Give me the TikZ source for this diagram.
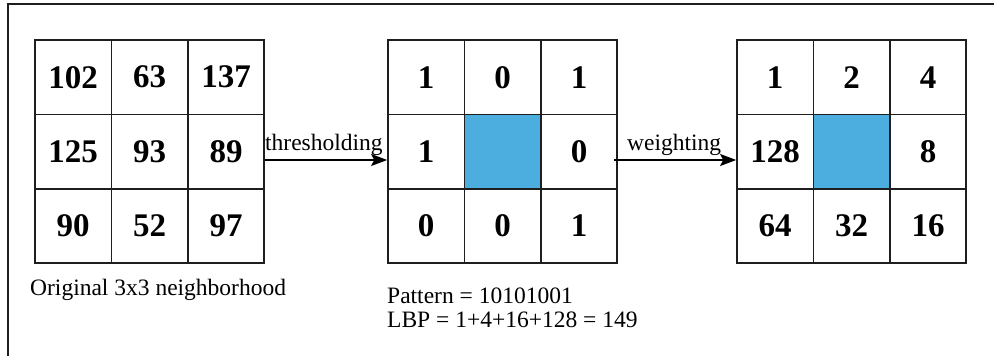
\documentclass[tikz,border=0pt]{standalone}
\usepackage{fontspec}
\setmainfont{Liberation Serif}
\usetikzlibrary{arrows.meta}
\definecolor{cellblue}{RGB}{76,174,223}
\definecolor{linegray}{RGB}{30,30,30}
\begin{document}
\begin{tikzpicture}[x=1pt,y=-1pt,
  cell/.style={draw=linegray, line width=1.7pt, minimum width=76.4pt, minimum height=74.4pt, inner sep=0pt, font=\fontsize{33}{33}\selectfont\bfseries},
  midcell/.style={cell, fill=cellblue},
  lbl/.style={font=\fontsize{23.5}{27}\selectfont, inner sep=0pt, anchor=base west},
  arr/.style={-{Stealth[length=16pt,width=12pt,inset=3pt]}, line width=1.3pt, draw=black},
  frame/.style={draw=linegray, line width=1.4pt}]
\useasboundingbox (0,0) rectangle (994,356);
\draw[frame] (8,356) -- (8,4) -- (994,4);
% grid 1
\node[cell] (a1) at (73.2,77.2) {102};
\node[cell] (a2) at (149.6,77.2) {63};
\node[cell] (a3) at (226,77.2) {137};
\node[cell] (a4) at (73.2,151.6) {125};
\node[cell] (a5) at (149.6,151.6) {93};
\node[cell] (a6) at (226,151.6) {89};
\node[cell] (a7) at (73.2,226) {90};
\node[cell] (a8) at (149.6,226) {52};
\node[cell] (a9) at (226,226) {97};
% grid 2
\node[cell] (b1) at (426.2,77.2) {1};
\node[cell] (b2) at (502.6,77.2) {0};
\node[cell] (b3) at (579,77.2) {1};
\node[cell] (b4) at (426.2,151.6) {1};
\node[cell] (b6) at (579,151.6) {0};
\node[cell] (b7) at (426.2,226) {0};
\node[cell] (b8) at (502.6,226) {0};
\node[cell] (b9) at (579,226) {1};
\node[midcell] (b5) at (502.6,151.6) {};
% grid 3
\node[cell] (c1) at (775.2,77.2) {1};
\node[cell] (c2) at (851.6,77.2) {2};
\node[cell] (c3) at (928,77.2) {4};
\node[cell] (c4) at (775.2,151.6) {128};
\node[cell] (c6) at (928,151.6) {8};
\node[cell] (c7) at (775.2,226) {64};
\node[cell] (c8) at (851.6,226) {32};
\node[cell] (c9) at (928,226) {16};
\node[midcell] (c5) at (851.6,151.6) {};
% arrows
\draw[arr] ([yshift=-8.4pt]a6.east) -- ([yshift=-8.4pt]b4.west);
\draw[arr] ([xshift=-4pt,yshift=-8.4pt]b6.east) -- ([yshift=-8.4pt]c4.west);
% labels
\node[lbl] (t1) at (265,150) {thresholding};
\node[lbl] (t2) at (627,150) {weighting};
\node[lbl] (t3) at (30,295) {Original 3x3 neighborhood};
\node[lbl] (t4) at (387,303) {Pattern = 10101001};
\node[lbl] (t5) at (387,327) {LBP = 1+4+16+128 = 149};
\end{tikzpicture}
\end{document}
